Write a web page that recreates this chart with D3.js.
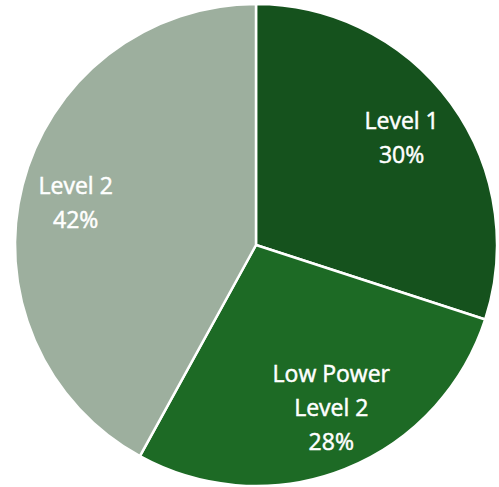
<!DOCTYPE html>
<html>
<head>
<meta charset="utf-8">
<script src="https://cdn.jsdelivr.net/npm/d3@7"></script>
<style>
  html, body { margin: 0; padding: 0; background: #ffffff; }
  svg { display: block; }
</style>
</head>
<body>
<svg id="chart" width="499" height="487"></svg>
<script>
// Share of units by power level
const categories = ["Level 1", "Low Power Level 2", "Level 2"];
const labelLines = [["Level 1"], ["Low Power", "Level 2"], ["Level 2"]];
const shares = [30, 28, 42];
const colors = ["#15521d", "#1d6a25", "#9daf9e"];

const svg = d3.select("#chart");
const cx = 256, cy = 245, radius = 241;

const pie = d3.pie().sort(null).value(d => d)(shares);
const arc = d3.arc().innerRadius(0).outerRadius(radius);
const labelArc = d3.arc().innerRadius(180).outerRadius(180);
const color = d3.scaleOrdinal().domain(categories).range(colors);

// small hand nudges so each label sits well inside its wedge
const nudge = [[0, 0], [9, -3], [-6, 4]];

const g = svg.append("g").attr("transform", `translate(${cx},${cy})`);

g.selectAll("path.slice")
  .data(pie)
  .join("path")
  .attr("class", "slice")
  .attr("d", arc)
  .attr("fill", (d, i) => color(categories[i]))
  .attr("stroke", "#ffffff")
  .attr("stroke-width", 2.5)
  .attr("stroke-linejoin", "round");

const lineH = 34;
const labels = g.selectAll("text.lbl")
  .data(pie)
  .join("text")
  .attr("class", "lbl")
  .attr("text-anchor", "middle")
  .attr("fill", "#ffffff")
  .attr("stroke", "#ffffff")
  .attr("stroke-width", 0.5)
  .style("font-family", "'Open Sans', Lato, sans-serif")
  .style("font-size", "23px")
  .attr("transform", (d, i) => {
    const [x, y] = labelArc.centroid(d);
    return `translate(${x + nudge[i][0]},${y + nudge[i][1]})`;
  });

labels.each(function (d, i) {
  const lines = labelLines[i].concat([shares[i] + "%"]);
  const t = d3.select(this);
  const y0 = -((lines.length - 1) * lineH) / 2 + 7;
  lines.forEach((s, k) => {
    t.append("tspan").attr("x", 0).attr("y", y0 + k * lineH).text(s);
  });
});
</script>
</body>
</html>
